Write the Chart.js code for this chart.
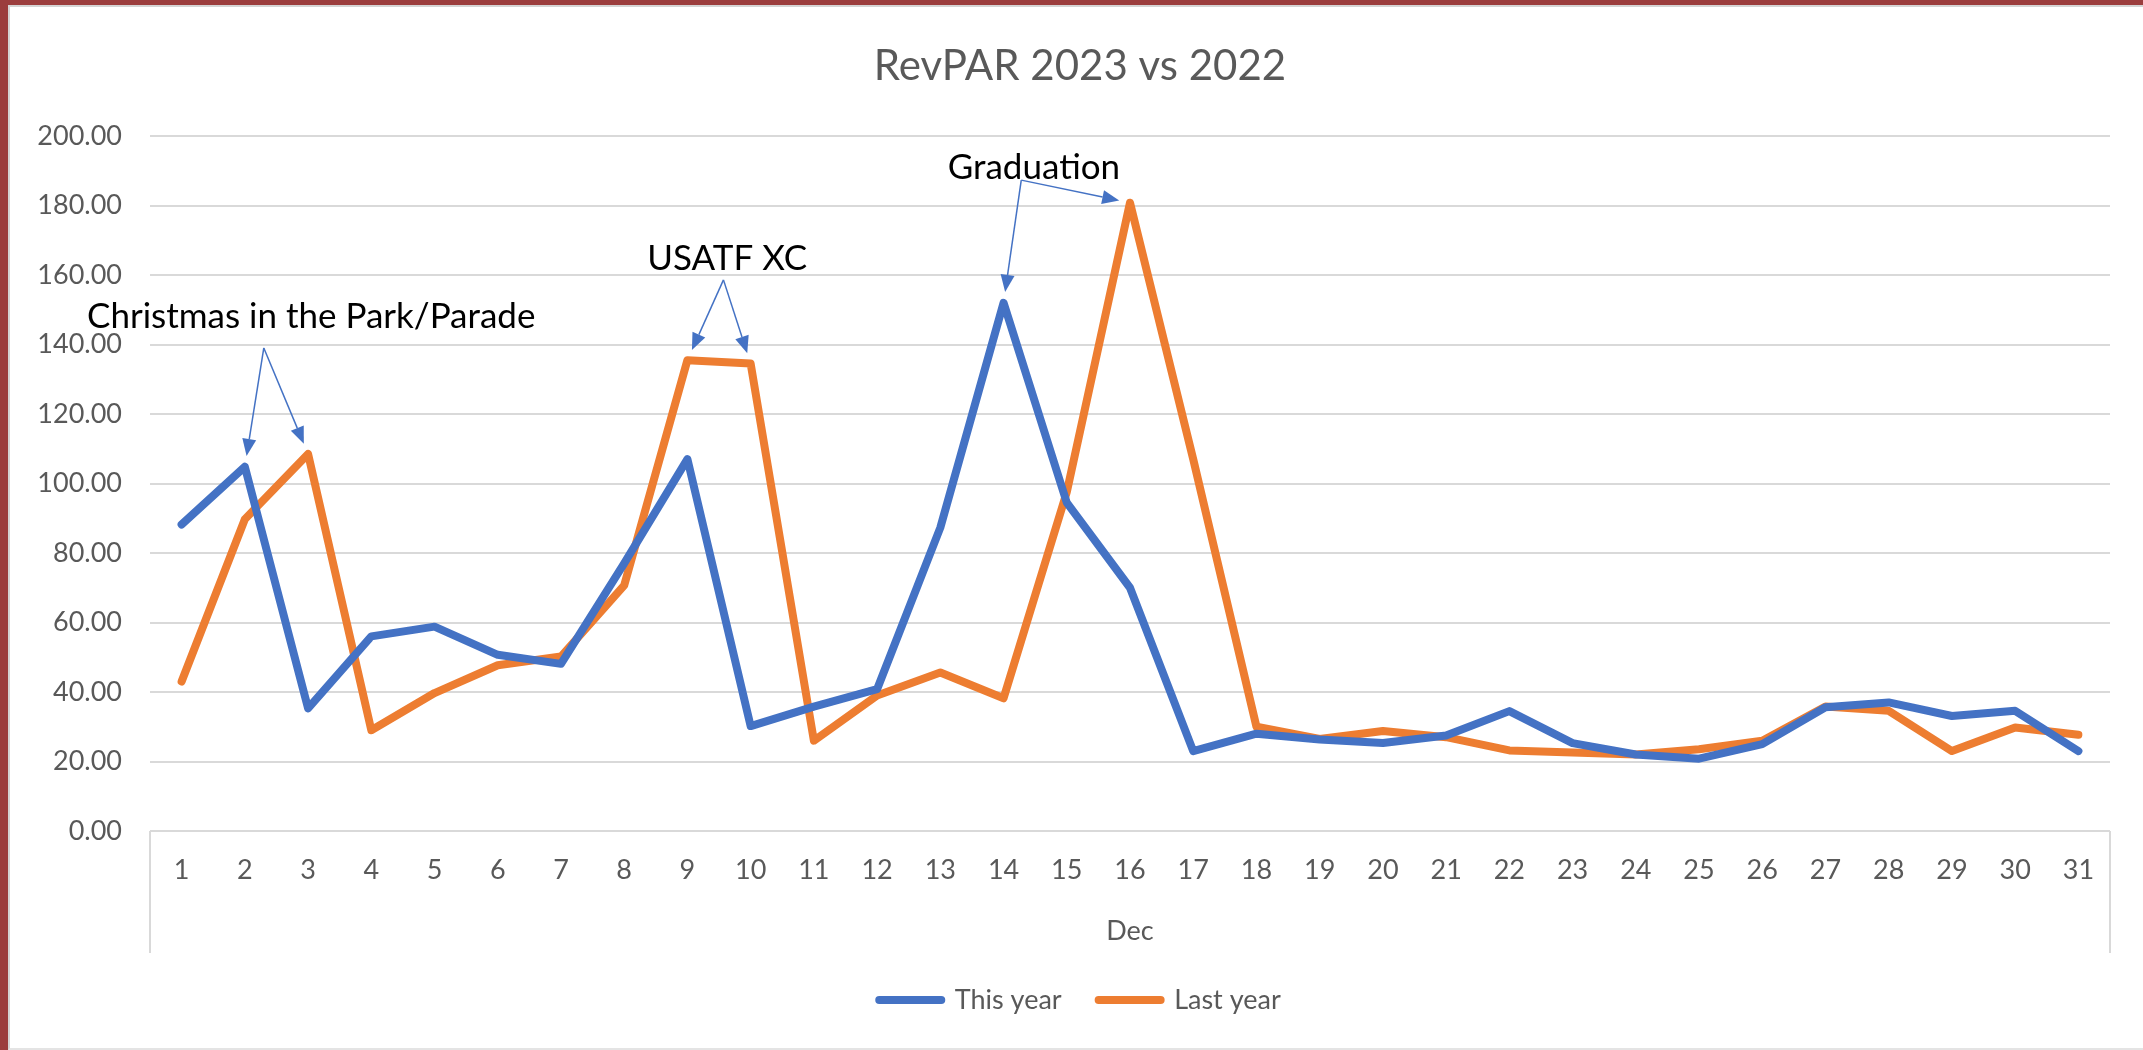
<!DOCTYPE html>
<html>
<head>
<meta charset="utf-8">
<title>RevPAR 2023 vs 2022</title>
<script src="https://cdn.jsdelivr.net/npm/chart.js@4.4.0/dist/chart.umd.min.js"></script>
<style>
  html, body { margin: 0; padding: 0; }
  body { width: 2143px; height: 1050px; background: #9b3d3d; position: relative; overflow: hidden; }
  #frame {
    position: absolute; left: 8px; top: 5px; right: 0; bottom: 0;
    background: #fff; box-sizing: border-box;
    border-left: 2px solid #d4d4d4; border-top: 2px solid #d4d4d4; border-bottom: 2px solid #e4e4e4;
  }
  #chart { position: absolute; left: 0; top: 0; }
</style>
</head>
<body>
<div id="frame"></div>
<canvas id="chart" width="2143" height="1050"></canvas>
<script>
// RevPAR by day of December, this year vs last year

const days = ['1', '2', '3', '4', '5', '6', '7', '8', '9', '10', '11', '12', '13', '14', '15', '16',
    '17', '18', '19', '20', '21', '22', '23', '24', '25', '26', '27', '28', '29', '30', '31'];

const thisYear = [88.2, 104.8, 35.3, 56.0, 58.8, 50.7, 48.1, 77.0, 107.0, 30.2, 35.8, 40.8, 87.3, 152.0, 94.5, 70.0,
    23.0, 28.0, 26.3, 25.3, 27.5, 34.5, 25.3, 22.0, 20.8, 25.0, 35.6, 37.0, 33.1, 34.6, 23.0];

const lastYear = [43.0, 89.7, 108.5, 29.0, 39.7, 47.7, 50.2, 70.7, 135.5, 134.5, 26.0, 39.0, 45.6, 38.2, 97.5, 180.8,
    107.0, 30.0, 26.5, 28.8, 27.0, 23.2, 22.6, 22.0, 23.5, 26.0, 35.8, 34.6, 23.0, 29.8, 27.7];

const yTicks = [0, 20, 40, 60, 80, 100, 120, 140, 160, 180, 200];

// event call-outs: text centre and arrow origin in (day, value) units, arrows point at [series, day]
const notes = [
    { text: 'Christmas in the Park/Parade', at: [3.05, 148], from: [2.3, 139], targets: [['thisYear', 2], ['lastYear', 3]] },
    { text: 'USATF XC', at: [9.63, 164.6], from: [9.57, 158.6], targets: [['lastYear', 9], ['lastYear', 10]] },
    { text: 'Graduation', at: [14.48, 191], from: [14.28, 187.3], targets: [['thisYear', 14], ['lastYear', 16]] }
];

const series = { thisYear, lastYear };

const FONT = 'Lato, "Open Sans", sans-serif';
const TEXT_GRAY = '#595959';
const GRID_GRAY = '#d9d9d9';
const BLUE = '#4472c4';
const ORANGE = '#ed7d31';

function drawArrow(ctx, x0, y0, x1, y1) {
    const gap = 11, head = 17, half = 7;
    const len = Math.hypot(x1 - x0, y1 - y0);
    const ux = (x1 - x0) / len, uy = (y1 - y0) / len;
    const tipX = x1 - ux * gap, tipY = y1 - uy * gap;
    const baseX = tipX - ux * head, baseY = tipY - uy * head;
    ctx.beginPath();
    ctx.moveTo(x0, y0);
    ctx.lineTo(baseX, baseY);
    ctx.stroke();
    ctx.beginPath();
    ctx.moveTo(tipX, tipY);
    ctx.lineTo(baseX - uy * half, baseY + ux * half);
    ctx.lineTo(baseX + uy * half, baseY - ux * half);
    ctx.closePath();
    ctx.fill();
}

const calloutPlugin = {
    id: 'callouts',
    afterDatasetsDraw(chart) {
        const { ctx, scales: { x, y } } = chart;
        ctx.save();
        ctx.strokeStyle = BLUE;
        ctx.fillStyle = BLUE;
        ctx.lineWidth = 1.5;
        notes.forEach(note => {
            const ox = x.getPixelForValue(note.from[0] - 1);
            const oy = y.getPixelForValue(note.from[1]);
            note.targets.forEach(([name, day]) => {
                drawArrow(ctx, ox, oy, x.getPixelForValue(day - 1), y.getPixelForValue(series[name][day - 1]));
            });
        });
        ctx.fillStyle = '#000';
        ctx.font = '35px ' + FONT;
        ctx.textAlign = 'center';
        ctx.textBaseline = 'middle';
        notes.forEach(note => {
            ctx.fillText(note.text, x.getPixelForValue(note.at[0] - 1), y.getPixelForValue(note.at[1]));
        });
        ctx.restore();
    }
};

// the bracket Excel draws round the category labels
const axisBoxPlugin = {
    id: 'axisBox',
    beforeDatasetsDraw(chart) {
        const { ctx, chartArea } = chart;
        ctx.save();
        ctx.strokeStyle = GRID_GRAY;
        ctx.lineWidth = 2;
        ctx.beginPath();
        [chartArea.left, chartArea.right].forEach(px => {
            ctx.moveTo(px, chartArea.bottom);
            ctx.lineTo(px, chartArea.bottom + 122);
        });
        ctx.stroke();
        ctx.restore();
    }
};

// Excel centres title and legend a little right of the canvas middle
const centreShiftPlugin = {
    id: 'centreShift',
    afterLayout(chart) {
        [chart.titleBlock, chart.legend].forEach(box => {
            if (!box) return;
            box.left += 25;
            box.right += 25;
        });
    }
};

const ctx = document.getElementById('chart').getContext('2d');

new Chart(ctx, {
    type: 'line',
    data: {
        labels: days,
        datasets: [
            { label: 'This year', data: thisYear, borderColor: BLUE, backgroundColor: BLUE },
            { label: 'Last year', data: lastYear, borderColor: ORANGE, backgroundColor: ORANGE }
        ].map(ds => Object.assign(ds, {
            borderWidth: 8,
            borderCapStyle: 'round',
            borderJoinStyle: 'round',
            tension: 0,
            pointRadius: 0,
            pointHoverRadius: 0,
            pointStyle: 'line'
        }))
    },
    options: {
        responsive: false,
        animation: false,
        devicePixelRatio: 1,
        events: [],
        layout: { padding: { left: 0, right: 33, top: 0, bottom: 26.5 } },
        plugins: {
            title: {
                display: true,
                text: 'RevPAR 2023 vs 2022',
                color: TEXT_GRAY,
                font: { family: FONT, size: 42, weight: 'normal' },
                padding: { top: 41, bottom: 44.6 }
            },
            legend: {
                position: 'bottom',
                labels: {
                    usePointStyle: true,
                    pointStyleWidth: 62,
                    padding: 37,
                    color: TEXT_GRAY,
                    font: { family: FONT, size: 27 },
                    generateLabels: chart => Chart.defaults.plugins.legend.labels.generateLabels(chart).map(item => ({
                        ...item,
                        pointStyle: 'line',
                        lineWidth: 8,
                        lineCap: 'round',
                        strokeStyle: chart.data.datasets[item.datasetIndex].borderColor
                    }))
                }
            },
            tooltip: { enabled: false }
        },
        scales: {
            x: {
                offset: true,
                grid: { display: false, drawTicks: false },
                border: { display: false },
                ticks: { color: TEXT_GRAY, font: { family: FONT, size: 27 }, padding: 23, maxRotation: 0, autoSkip: false },
                title: { display: true, text: 'Dec', color: TEXT_GRAY, font: { family: FONT, size: 27 }, padding: { top: 0, bottom: 2 } },
                afterFit: scale => { scale.height = 118.5; }
            },
            y: {
                min: yTicks[0],
                max: yTicks[yTicks.length - 1],
                afterBuildTicks: scale => { scale.ticks = yTicks.map(v => ({ value: v })); },
                ticks: { color: TEXT_GRAY, font: { family: FONT, size: 27 }, padding: 28, callback: v => Number(v).toFixed(2) },
                grid: { color: GRID_GRAY, lineWidth: 2, drawTicks: false },
                border: { display: false },
                afterFit: scale => { scale.width = 150; }
            }
        }
    },
    plugins: [axisBoxPlugin, calloutPlugin, centreShiftPlugin]
});
</script>
</body>
</html>
